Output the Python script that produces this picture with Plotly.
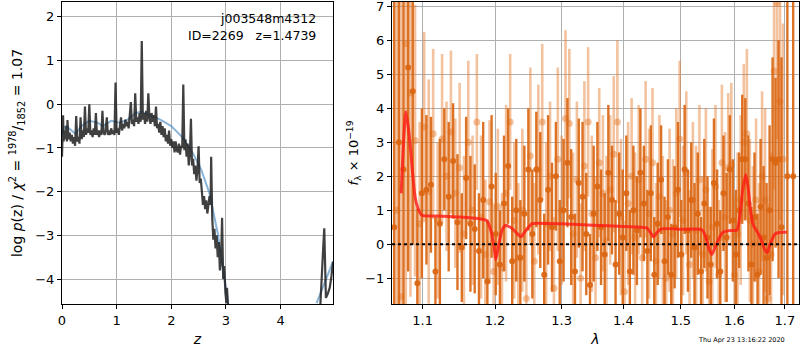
import plotly.graph_objects as go

# ---------------- left panel: p(z) ----------------
pz_z = [0.00, 0.01, 0.02, 0.03, 0.05, 0.06, 0.08, 0.09, 0.10, 0.12, 0.14, 0.16, 0.18, 0.20, 0.22, 0.24,
        0.26, 0.28, 0.30, 0.32, 0.34, 0.36, 0.38, 0.40, 0.42, 0.44, 0.46, 0.48, 0.50, 0.52, 0.54, 0.56,
        0.58, 0.60, 0.62, 0.64, 0.66, 0.68, 0.70, 0.72, 0.74, 0.76, 0.78, 0.80, 0.82, 0.84, 0.86, 0.88,
        0.90, 0.92, 0.94, 0.96, 0.98, 1.00, 1.02, 1.04, 1.06, 1.08, 1.10, 1.12, 1.14, 1.16, 1.18, 1.20,
        1.22, 1.24, 1.26, 1.28, 1.30, 1.32, 1.34, 1.36, 1.38, 1.40, 1.42, 1.44, 1.46, 1.48, 1.50, 1.52,
        1.54, 1.56, 1.58, 1.60, 1.62, 1.64, 1.66, 1.68, 1.70, 1.72, 1.74, 1.76, 1.78, 1.80, 1.82, 1.84,
        1.86, 1.88, 1.90, 1.92, 1.94, 1.96, 1.98, 2.00, 2.02, 2.04, 2.06, 2.08, 2.10, 2.12, 2.14, 2.16,
        2.18, 2.20, 2.22, 2.24, 2.26, 2.28, 2.30, 2.32, 2.34, 2.36, 2.38, 2.40, 2.42, 2.44, 2.46, 2.48,
        2.50, 2.52, 2.54, 2.56, 2.58, 2.60, 2.62, 2.64, 2.66, 2.68, 2.70, 2.72, 2.73, 2.75, 2.77, 2.79,
        2.81, 2.83, 2.85, 2.87, 2.89, 2.91, 2.93, 2.95, 2.97, 2.99, 3.01, 3.02, 3.04,
        None,
        4.72, 4.76, 4.78, 4.80, 4.81, 4.83, 4.86, 4.90, 4.93, 4.96]
pz_logp = [-1.20, -0.90, -0.25, -0.85, -0.60, -0.80, -0.50, -0.85, -0.36, -0.80, -0.65, -0.85, -0.70, -0.90, -0.75, -0.95,
           -0.27, -0.85, -0.75, -0.90, -0.30, -0.80, -0.60, -0.75, -0.05, -0.70, -0.55, -0.65, 0.00, -0.70, -0.60, -0.75,
           -0.55, -0.70, -0.20, -0.70, -0.60, -0.75, -0.60, -0.70, -0.15, -0.65, -0.70, -0.60, -0.30, -0.70, -0.60, -0.70,
           -0.55, -0.68, -0.60, -0.70, 0.50, -0.65, -0.55, -0.70, -0.50, -0.30, -0.60, -0.45, -0.55, -0.35, -0.50, -0.40,
           -0.55, -0.30, 0.05, -0.45, -0.35, -0.50, 0.25, -0.40, -0.30, -0.45, -0.20, -0.40, 1.45, -0.35, -0.20, -0.45,
           -0.15, -0.40, 0.25, -0.30, -0.45, -0.20, -0.40, -0.25, -0.50, -0.05, -0.55, -0.45, -0.65, -0.40, -0.70, -0.50,
           -0.75, -0.55, -0.85, -0.70, -0.90, -0.60, -0.95, -0.80, -1.00, -0.85, -1.10, -0.85, -1.05, -1.10, -0.90, -1.15,
           -0.95, -1.00, 0.45, -1.05, -0.80, -1.20, -0.90, -1.40, -1.15, -0.33, -1.40, -1.25, -1.60, -1.40, -1.75, -1.50,
           -0.96, -1.80, -1.70, -2.00, -2.30, -2.10, -2.40, -2.20, -2.50, -2.30, -2.10, -2.30, -1.20, -2.60, -3.10, -2.85,
           -3.30, -3.00, -3.50, -3.15, -3.80, -3.60, -2.60, -4.00, -3.70, -4.30, -4.55, -4.20, -4.70,
           None,
           -4.80, -3.60, -3.30, -2.84, -3.50, -4.43, -4.35, -4.20, -3.95, -3.60]

smooth_z = [0.00, 0.04, 0.08, 0.15, 0.25, 0.35, 0.50, 0.65, 0.75, 0.90, 1.05, 1.20, 1.35, 1.45, 1.60,
            1.80, 2.00, 2.20, 2.40, 2.55, 2.70, 2.85, 3.00, 3.05,
            None,
            4.66, 4.75, 4.85, 4.96]
smooth_logp = [-0.70, -0.52, -0.50, -0.58, -0.68, -0.50, -0.38, -0.42, -0.50, -0.38, -0.42, -0.35, -0.20, -0.17, -0.25,
               -0.35, -0.50, -0.75, -1.13, -1.50, -2.04, -2.95, -4.20, -4.60,
               None,
               -4.55, -4.25, -3.95, -3.60]

# ---------------- right panel: spectrum ----------------
dark_wave = [1.063, 1.069, 1.075, 1.081, 1.087, 1.093, 1.099, 1.105, 1.111, 1.117, 1.123, 1.129, 1.135, 1.141,
             1.147, 1.153, 1.159, 1.165, 1.171, 1.177, 1.183, 1.189, 1.195, 1.201, 1.207, 1.213, 1.219, 1.225,
             1.231, 1.237, 1.243, 1.249, 1.255, 1.261, 1.267, 1.273, 1.279, 1.285, 1.291, 1.297, 1.303, 1.309,
             1.315, 1.321, 1.327, 1.333, 1.339, 1.345, 1.351, 1.357, 1.363, 1.369, 1.375, 1.381, 1.387, 1.393,
             1.399, 1.405, 1.411, 1.417, 1.423, 1.429, 1.435, 1.441, 1.447, 1.453, 1.459, 1.465, 1.471, 1.477,
             1.483, 1.489, 1.495, 1.501, 1.507, 1.513, 1.519, 1.525, 1.531, 1.537, 1.543, 1.549, 1.555, 1.561,
             1.567, 1.573, 1.579, 1.585, 1.591, 1.597, 1.603, 1.609, 1.615, 1.621, 1.627, 1.633, 1.639, 1.645,
             1.651, 1.657, 1.663, 1.669, 1.675, 1.681, 1.687, 1.693, 1.705, 1.717]
dark_flux = [0.5, 3.0, 2.2, 5.2, 4.5, -1.15, 1.5, 1.6, 1.75, -0.8, 0.6, 2.5, 1.4, 2.45,
             0.65, -0.1, 1.95, 0.6, 0.45, -0.2, 1.3, -1.1, 1.7, 0.3, -0.6, 1.2, 2.3, -0.5,
             1.0, -0.4, 0.9, 2.2, 0.3, 2.2, 1.3, -0.9, 1.6, 0.5, 2.0, -0.5, 1.0, 2.4,
             0.8, -0.8, 1.8, 1.4, 0.3, -1.2, 0.9, 1.7, 0.5, -0.3, 2.1, 1.3, -0.6, 0.9,
             0.2, 1.5, -0.8, 1.0, 0.4, 2.1, 1.2, -0.2, 1.5, -0.9, 0.6, 1.9, -0.5, 0.8,
             -0.9, 0.5, 1.6, -0.3, 2.2, 0.4, 1.3, -0.1, 0.9, -0.8, 1.2, 0.2, -0.6, 1.8,
             0.6, -0.8, 1.5, 0.2, 2.2, 0.7, -0.3, 1.0, 2.5, 2.5, 1.2, -0.6, 0.8, -0.9,
             1.1, 0.2, -0.4, 1.0, 2.5, 2.4, 2.5, 0.5, 2.0, 2.0]
dark_err = [10, 10, 8, 6, 4.5, 2.2, 2.5, 2.2, 2.0, 1.6, 2.5, 1.5, 2.2, 1.7,
            2.0, 1.6, 1.8, 2.0, 1.9, 1.7, 2.3, 1.8, 2.1, 1.8, 1.6, 2.0, 1.7, 1.9,
            2.1, 1.7, 2.0, 1.8, 1.9, 1.7, 2.0, 1.8, 2.2, 1.9, 1.6, 1.8, 2.1, 1.9,
            2.0, 1.7, 1.9, 2.2, 1.8, 1.5, 2.0, 1.9, 1.7, 1.8, 2.0, 1.6, 1.9, 1.8,
            2.0, 1.7, 1.8, 1.9, 1.6, 1.9, 1.7, 1.8, 2.0, 1.7, 1.8, 1.6, 1.9, 1.7,
            1.5, 1.8, 2.0, 1.6, 1.9, 1.8, 1.7, 1.9, 1.8, 1.6, 1.9, 1.8, 1.7, 1.9,
            1.6, 1.8, 1.7, 1.9, 1.6, 1.8, 1.9, 1.7, 1.9, 1.8, 2.0, 1.7, 1.9, 1.8,
            2.0, 2.1, 2.2, 2.5, 3.0, 2.5, 3.5, 5.0, 12, 12]

light_wave = [1.066, 1.072, 1.078, 1.084, 1.090, 1.096, 1.102, 1.108, 1.114, 1.120, 1.126, 1.132, 1.138, 1.144,
              1.150, 1.156, 1.162, 1.168, 1.174, 1.180, 1.186, 1.192, 1.198, 1.204, 1.210, 1.216, 1.222, 1.228,
              1.234, 1.240, 1.246, 1.252, 1.258, 1.264, 1.270, 1.276, 1.282, 1.288, 1.294, 1.300, 1.306, 1.312,
              1.318, 1.324, 1.330, 1.336, 1.342, 1.348, 1.354, 1.360, 1.366, 1.372, 1.378, 1.384, 1.390, 1.396,
              1.402, 1.408, 1.414, 1.420, 1.426, 1.432, 1.438, 1.444, 1.450, 1.456, 1.462, 1.468, 1.474, 1.480,
              1.486, 1.492, 1.498, 1.504, 1.510, 1.516, 1.522, 1.528, 1.534, 1.540, 1.546, 1.552, 1.558, 1.564,
              1.570, 1.576, 1.582, 1.588, 1.594, 1.600, 1.606, 1.612, 1.618, 1.624, 1.630, 1.636, 1.642, 1.648,
              1.654, 1.660, 1.666, 1.672, 1.678, 1.684, 1.690, 1.696]
light_flux = [1.0, -1.55, 5.9, 4.45, 3.05, 0.6, 3.45, 1.55, 3.25, 0.7, 3.1, 2.0, 3.3, 1.5,
              2.25, 0.3, 3.0, 1.0, 3.6, 0.8, -0.3, 1.25, -0.8, 1.1, -0.7, 1.5, 3.6, 0.7,
              -0.4, 1.0, -1.6, 2.6, -0.5, 2.2, 3.6, 0.6, 2.0, -1.3, 2.5, 1.0, 3.7, 3.55,
              0.3, 1.9, -1.0, 2.3, 3.6, 0.9, -0.4, 2.4, 1.5, 0.1, 1.6, 2.65, 3.6, 0.8,
              -1.4, 1.2, 2.0, 0.2, 1.9, -0.4, 2.5, 0.9, 2.4, -0.5, 1.4, 0.4, -1.0, 1.0,
              0.3, 1.5, 3.1, 0.7, 2.1, -0.6, 1.3, 0.4, 1.9, -0.3, 1.6, -1.1, 0.5, 1.7,
              -0.9, 2.4, 0.8, 2.25, 2.35, -0.9, 0.3, 1.3, 3.0, 3.25, 0.7, 0.0, 1.3, -0.8,
              2.0, 1.3, -1.6, -0.3, 5.1, 7.1, 4.2, 2.5]
light_err = [10, 9, 8, 6, 4, 3, 2.8, 3.3, 2.5, 2.3, 2.5, 2.2, 2.4, 2.2,
             2.5, 2.3, 2.4, 2.2, 2.0, 2.4, 2.2, 2.4, 2.0, 2.3, 2.2, 2.6, 2.0, 2.3,
             2.2, 2.4, 2.1, 2.6, 2.3, 2.5, 2.3, 2.4, 2.2, 2.1, 2.7, 2.2, 2.6, 2.2,
             2.4, 2.3, 2.2, 2.5, 2.2, 2.3, 2.4, 2.2, 2.3, 2.5, 2.2, 2.3, 2.4, 2.3,
             2.1, 2.4, 2.3, 2.5, 2.2, 2.4, 2.3, 2.5, 2.2, 2.3, 2.4, 2.2, 2.3, 2.4,
             2.2, 2.5, 2.3, 2.2, 2.4, 2.2, 2.3, 2.5, 2.2, 2.3, 2.4, 2.2, 2.3, 2.4,
             2.2, 2.3, 2.5, 2.2, 2.4, 2.3, 2.4, 2.5, 2.3, 2.5, 2.4, 2.3, 2.4, 2.6,
             2.5, 2.7, 2.8, 3.0, 3.5, 4.0, 3.5, 4.0]

model_wave = [1.072, 1.075, 1.078, 1.082, 1.086, 1.090, 1.094, 1.099, 1.120, 1.150, 1.180, 1.188, 1.194,
              1.198, 1.201, 1.205, 1.210, 1.215, 1.224, 1.232, 1.238, 1.245, 1.254, 1.262, 1.300, 1.350,
              1.400, 1.440, 1.446, 1.452, 1.458, 1.465, 1.500, 1.539, 1.546, 1.552, 1.557, 1.563, 1.570,
              1.578, 1.590, 1.605, 1.611, 1.616, 1.622, 1.627, 1.632, 1.637, 1.645, 1.653, 1.659, 1.664,
              1.670, 1.680, 1.692, 1.704]
model_flux = [1.5, 3.0, 3.9, 3.3, 2.3, 1.4, 1.05, 0.85, 0.83, 0.80, 0.74, 0.70, 0.40,
              0.00, -0.45, -0.05, 0.40, 0.55, 0.48, 0.32, 0.22, 0.40, 0.60, 0.62, 0.60, 0.56,
              0.52, 0.48, 0.35, 0.22, 0.35, 0.45, 0.44, 0.42, 0.20, -0.15, -0.30, -0.10, 0.15,
              0.35, 0.40, 0.42, 0.90, 1.60, 2.05, 1.60, 0.90, 0.55, 0.35, 0.10, -0.15, -0.25,
              0.00, 0.30, 0.35, 0.35]

x_ticks_left = [0, 1, 2, 3, 4]
y_ticks_left = [-4, -3, -2, -1, 0, 1, 2]
x_ticks_right = [1.1, 1.2, 1.3, 1.4, 1.5, 1.6, 1.7]
y_ticks_right = [-1, 0, 1, 2, 3, 4, 5, 6, 7]

FONT = "DejaVu Sans"
DARK = "rgba(218,102,18,0.92)"
LIGHT = "rgba(228,120,40,0.45)"
NB = "\u00a0"

fig = go.Figure()

fig.add_trace(go.Scatter(x=smooth_z, y=smooth_logp, mode="lines", xaxis="x", yaxis="y",
                         line=dict(color="rgba(60,130,190,0.6)", width=2), connectgaps=False,
                         showlegend=False))
fig.add_trace(go.Scatter(x=pz_z, y=pz_logp, mode="lines", xaxis="x", yaxis="y",
                         line=dict(color="rgba(30,30,30,0.85)", width=2.2), connectgaps=False,
                         showlegend=False))

fig.add_trace(go.Scatter(x=light_wave, y=light_flux, mode="markers", xaxis="x2", yaxis="y2",
                         marker=dict(color=LIGHT, size=7),
                         error_y=dict(type="data", array=light_err, color=LIGHT, thickness=2.6, width=0),
                         showlegend=False))
fig.add_trace(go.Scatter(x=dark_wave, y=dark_flux, mode="markers", xaxis="x2", yaxis="y2",
                         marker=dict(color=DARK, size=6),
                         error_y=dict(type="data", array=dark_err, color=DARK, thickness=2.4, width=0),
                         showlegend=False))
fig.add_trace(go.Scatter(x=model_wave, y=model_flux, mode="lines", xaxis="x2", yaxis="y2",
                         line=dict(color="rgba(255,25,20,0.8)", width=3, shape="spline", smoothing=0.6),
                         showlegend=False))

fig.add_shape(type="line", xref="x2 domain", yref="y2", x0=0, x1=1, y0=0, y1=0,
              line=dict(color="black", width=2, dash="dot"))

axis_common = dict(showgrid=True, gridcolor="#b0b0b0", gridwidth=1, zeroline=False,
                   showline=True, linecolor="black", linewidth=1, mirror=True,
                   ticks="outside", ticklen=4, tickcolor="black", automargin=False,
                   ticklabeloverflow="allow",
                   tickfont=dict(family=FONT, size=13, color="black"))

ML, MR, MT, MB = 62, 1, 2, 46
W = 800 - ML - MR
H = 350 - MT - MB


def px_to_paper(X, Y):
    return (X - ML) / W, (350 - MB - Y) / H


fig.update_layout(
    width=800, height=350, margin=dict(l=ML, r=MR, t=MT, b=MB, autoexpand=False),
    paper_bgcolor="white", plot_bgcolor="white",
    font=dict(family=FONT, color="black"),
    xaxis=dict(domain=[0, (333 - ML) / W], range=[0, 4.96], tickvals=x_ticks_left, anchor="y",
               title=dict(text="<i>z</i>", font=dict(size=14), standoff=7), **axis_common),
    yaxis=dict(domain=[0, 1], range=[-4.57, 2.34], tickvals=y_ticks_left, anchor="x",
               ticktext=["\u22124", "\u22123", "\u22122", "\u22121", "0", "1", "2"],
               title=dict(text="log <i>p</i>(z) / <i>χ</i><sup>2</sup> = <sup>1978</sup>/<sub>1852</sub> = 1.07",
                          font=dict(size=14), standoff=9), **axis_common),
    xaxis2=dict(domain=[(392 - ML) / W, 1], type="log", range=[0.0254, 0.2378], anchor="y2",
                tickvals=x_ticks_right, ticktext=[str(v) for v in x_ticks_right],
                title=dict(text="<i>λ</i>", font=dict(size=14), standoff=7), **axis_common),
    yaxis2=dict(domain=[0, 1], range=[-1.76, 7.13], tickvals=y_ticks_right, anchor="x2",
                ticktext=["\u22121"] + [str(v) for v in y_ticks_right[1:]],
                title=dict(text="<i>f</i><sub>λ</sub> × 10<sup>\u221219</sup>", font=dict(size=13), standoff=3),
                **axis_common),
)

for (X, Y, txt, size, anchor) in [
    (318, 19, "j003548m4312", 12.5, "right"),
    (318, 35, "ID=2269" + NB * 3 + "z=1.4739", 12.5, "right"),
    (787, 340, "Thu Apr 23 13:16:22 2020", 6.5, "right"),
]:
    xp, yp = px_to_paper(X, Y)
    fig.add_annotation(x=xp, y=yp, xref="paper", yref="paper", xanchor=anchor, yanchor="middle",
                       text=txt, showarrow=False, font=dict(family=FONT, size=size, color="black"))

fig.write_html("out.html", config={"displayModeBar": False},
               post_script="document.body.style.margin='0';")
